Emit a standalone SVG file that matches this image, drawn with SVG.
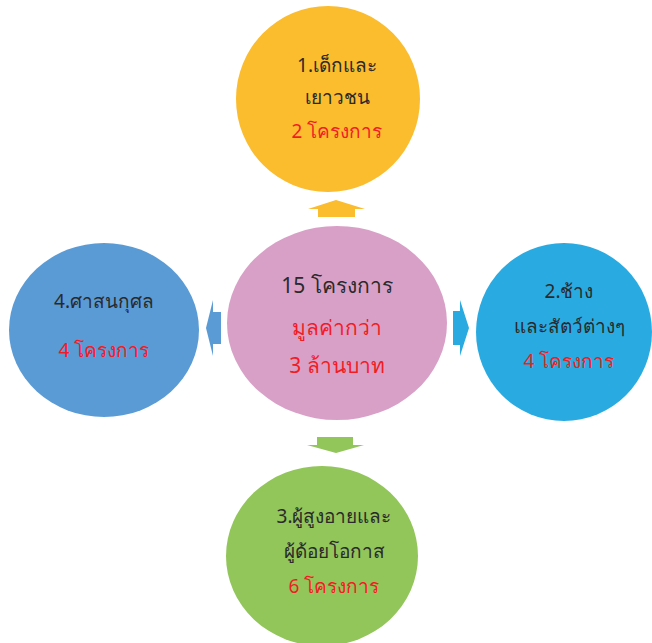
<svg xmlns="http://www.w3.org/2000/svg" width="652" height="643" viewBox="0 0 652 643">
<style>
text{font-family:"Noto Sans","DejaVu Sans","Liberation Sans",sans-serif;text-anchor:middle;font-size:19px;fill:#2a2a2a}
.r{fill:#f21c24}
.c{font-size:21px}
</style>
<rect width="652" height="643" fill="#ffffff"/>
<g id="connectors">
<path d="M308 209 L336 200 L365 209 L355 209 L355 217 L318 217 L318 209 Z" fill="#fbbc2e"/>
<path d="M307 445 L317 445 L317 437 L353 437 L353 445 L364 445 L336 453 Z" fill="#92c55a"/>
<path d="M213 300 L213 312 L221 312 L221 344 L213 344 L213 356 L206 328 Z" fill="#5b9bd5"/>
<path d="M460 300 L460 311 L453 311 L453 345 L460 345 L460 356 L469 328 Z" fill="#29abe2"/>
</g>
<g id="node-top">
<ellipse cx="328" cy="99" rx="92" ry="93" fill="#fbbc2e"/>
<text x="337" y="72">1.เด็กและ</text>
<text x="337" y="104">เยาวชน</text>
<text x="337" y="138" class="r">2 โครงการ</text>
</g>
<g id="node-center">
<ellipse cx="337" cy="323" rx="110" ry="97" fill="#d9a0c7"/>
<text x="337" y="293" class="c">15 โครงการ</text>
<text x="337" y="335" class="c r">มูลค่ากว่า</text>
<text x="337" y="373" class="c r">3 ล้านบาท</text>
</g>
<g id="node-left">
<ellipse cx="104" cy="330" rx="95" ry="87" fill="#5b9bd5"/>
<text x="104" y="308">4.ศาสนกุศล</text>
<text x="104" y="357" class="r">4 โครงการ</text>
</g>
<g id="node-right">
<ellipse cx="564" cy="332" rx="88" ry="89" fill="#29abe2"/>
<text x="569" y="298">2.ช้าง</text>
<text x="569" y="333">และสัตว์ต่างๆ</text>
<text x="569" y="368" class="r">4 โครงการ</text>
</g>
<g id="node-bottom">
<ellipse cx="322" cy="556" rx="96" ry="90" fill="#92c55a"/>
<text x="334" y="523">3.ผู้สูงอายและ</text>
<text x="334" y="558">ผู้ด้อยโอกาส</text>
<text x="334" y="593" class="r">6 โครงการ</text>
</g>
</svg>
